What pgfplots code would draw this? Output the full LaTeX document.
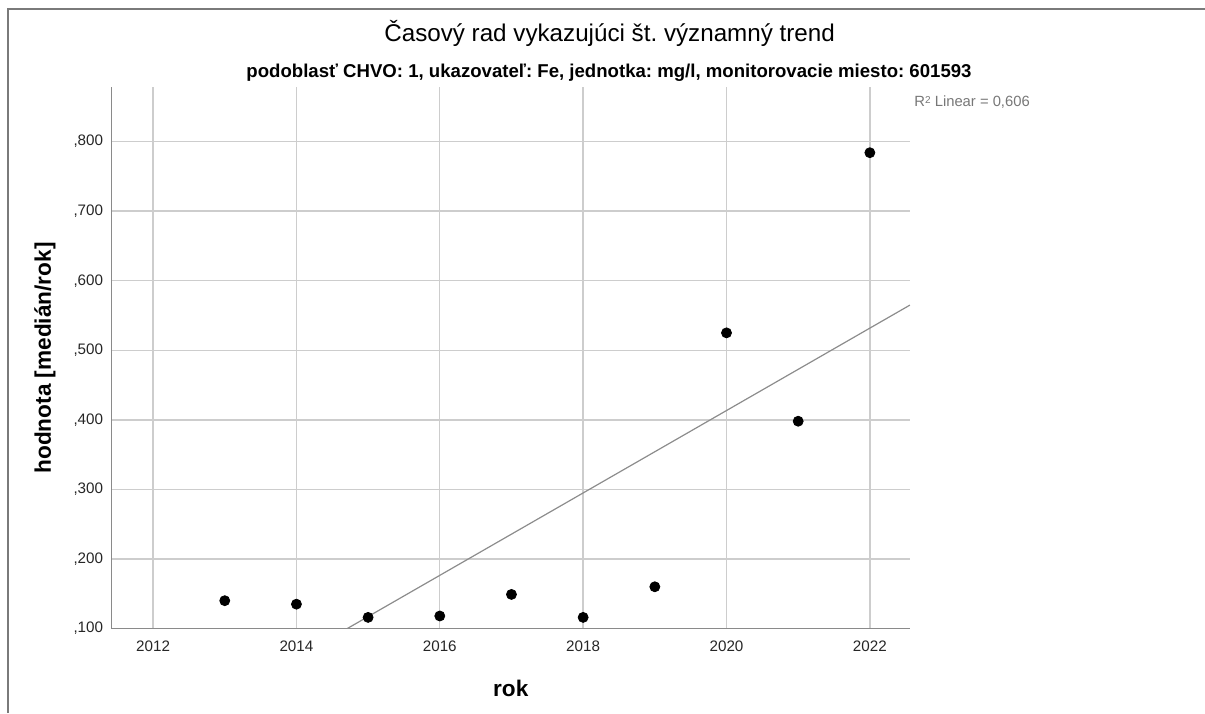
\documentclass[border=0pt]{standalone}
\usepackage{fontspec}
\setmainfont{Liberation Sans}
\usepackage{pgfplots}
\pgfplotsset{compat=1.18}
\definecolor{axisgray}{HTML}{8A8A8A}
\definecolor{gridgray}{HTML}{CDCDCD}
\definecolor{framegray}{HTML}{7A7A7A}
\definecolor{fitgray}{HTML}{8C8C8C}
\definecolor{labgray}{HTML}{777777}
\begin{document}
\frenchspacing
\begin{tikzpicture}
\useasboundingbox (0pt,0pt) rectangle (602.5pt,-356.5pt);
\draw[framegray, line width=1pt] (3.75pt,-356.5pt) -- (3.75pt,-4.25pt) -- (602.5pt,-4.25pt);
\node[anchor=center, font=\fontsize{12.1}{13}\selectfont] at (304.8pt,-16.8pt) {Časový rad vykazujúci št. významný trend};
\node[anchor=center, font=\fontsize{9.3}{11}\selectfont\bfseries] at (304.5pt,-36.2pt) {podoblasť CHVO: 1, ukazovateľ: Fe, jednotka: mg/l, monitorovacie miesto: 601593};
\node[anchor=west, inner sep=0pt, text=labgray, font=\fontsize{7.4}{9}\selectfont] at (457pt,-51pt) {R\raisebox{0.35ex}{\fontsize{5}{6}\selectfont 2} Linear = 0,606};
\begin{axis}[
  at={(55.75pt,-314.25pt)}, anchor=south west,
  scale only axis, width=399.25pt, height=270.6pt,
  xmin=2011.42, xmax=2022.56,
  ymin=0.1, ymax=0.878,
  axis x line*=bottom, axis y line*=left,
  axis line style={axisgray, line width=0.9pt, -},
  xtick={2012,2014,2016,2018,2020,2022},
  xticklabels={2012,2014,2016,2018,2020,2022},
  ytick={0.1,0.2,0.3,0.4,0.5,0.6,0.7,0.8},
  yticklabels={{,100},{,200},{,300},{,400},{,500},{,600},{,700},{,800}},
  major tick length=0pt,
  grid=major,
  major grid style={gridgray, line width=0.7pt},
  tick label style={font=\fontsize{7.6}{9}\selectfont, text=black!85},
  xticklabel style={anchor=center, yshift=-9pt, inner sep=0pt},
  yticklabel style={anchor=east, xshift=-4pt, inner sep=0pt},
  xlabel={rok},
  ylabel={hodnota [medián/rok]},
  label style={font=\fontsize{11.3}{13}\selectfont\bfseries},
  xlabel style={at={(axis description cs:0.5,-0.1109)}, anchor=center},
  ylabel style={at={(axis description cs:-0.0833,0.5)}, anchor=center},
  clip=true,
]
\addplot[fitgray, line width=0.6pt] coordinates {(2014.71,0.1) (2022.56,0.565)};
\addplot[only marks, mark=*, mark size=2.5pt, mark options={fill=black, draw=black}] coordinates {
(2013,0.140) (2014,0.135) (2015,0.116) (2016,0.118) (2017,0.149)
(2018,0.116) (2019,0.160) (2020,0.525) (2021,0.398) (2022,0.784)};
\end{axis}
\end{tikzpicture}
\end{document}
